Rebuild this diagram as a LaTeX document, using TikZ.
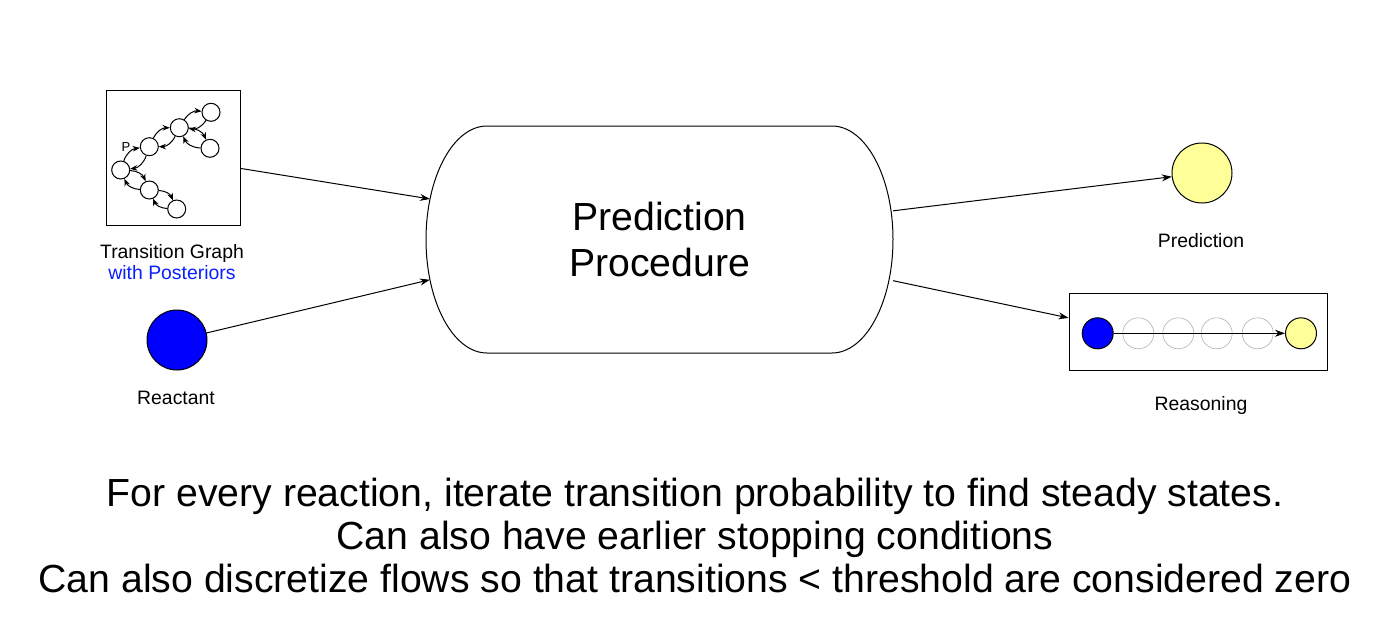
\documentclass[tikz,border=0pt]{standalone}
\usepackage{fontspec}
\setmainfont{Liberation Sans}
\usetikzlibrary{arrows.meta,positioning}
\definecolor{predyellow}{HTML}{FFFF99}
\definecolor{postblue}{HTML}{0A1EFF}

\begin{document}
\begin{tikzpicture}[x=0.5pt, y=-0.5pt, line width=0.5pt,
    >={Stealth[length=5pt,width=3.5pt]},
    lbl/.style={font=\fontsize{9.7}{10.5}\selectfont, align=center},
    state/.style={circle, draw, minimum size=9pt, inner sep=0pt},
    chainnode/.style={circle, draw=gray!60, line width=0.3pt, minimum size=15.5pt, inner sep=0pt},
    graphedge/.style={->, >={Stealth[length=3.6pt,width=2.8pt]}, bend left=32}]
    % Canvas
    \useasboundingbox[fill=white] (0,0) rectangle (1388,632);

    % Transition graph
    \node[draw, minimum width=67pt, minimum height=67.5pt, inner sep=0pt] (tg) at (173,157.5) {};
    \node[state] (g1) at (120.7,170) {};
    \node[state] (g2) at (149.3,146.7) {};
    \node[state] (g3) at (179.3,127.7) {};
    \node[state] (g4) at (211,112.3) {};
    \node[state] (g5) at (210,148.3) {};
    \node[state] (g6) at (149.3,190) {};
    \node[state] (g7) at (176.7,209) {};
    \foreach \a/\b in {g1/g2, g2/g3, g3/g4, g3/g5, g1/g6, g6/g7} {
        \draw[graphedge] (\a) to (\b);
        \draw[graphedge] (\b) to (\a);
    }
    \node[font=\fontsize{6.5}{7}\selectfont, inner sep=0pt] (plab) at (126,147.5) {P};
    \node[lbl] (tglabel) at (172,262) {Transition Graph\\\textcolor{postblue}{with Posteriors}};

    % Reactant
    \node[circle, draw, fill=blue, minimum size=30pt, inner sep=0pt] (react) at (177,340) {};
    \node[lbl] (reactlabel) at (176,398) {Reactant};

    % Procedure
    \node[minimum width=233.5pt, minimum height=113.5pt, inner sep=0pt, outer sep=0pt,
          font=\fontsize{19.6}{23}\selectfont, align=center] (proc) at (659.5,239.5)
          {Prediction\\Procedure};
    \draw ([xshift=30.5pt]proc.north west) -- ([xshift=-30.5pt]proc.north east)
        arc[start angle=90, end angle=-90, x radius=30.5pt, y radius=56.75pt]
        -- ([xshift=30.5pt]proc.south west)
        arc[start angle=270, end angle=90, x radius=30.5pt, y radius=56.75pt] -- cycle;

    % Prediction
    \node[circle, draw, fill=predyellow, minimum size=30pt, inner sep=0pt] (pred) at (1202,173) {};
    \node[lbl] (predlabel) at (1201,241) {Prediction};

    % Reasoning chain
    \node[draw, minimum width=129pt, minimum height=38.5pt, inner sep=0pt] (reas) at (1198,331.5) {};
    \node[circle, draw, fill=blue, minimum size=15.5pt, inner sep=0pt] (r1) at (1097.7,333.3) {};
    \node[chainnode] (r2) at (1138.3,333.3) {};
    \node[chainnode] (r3) at (1178.3,333.3) {};
    \node[chainnode] (r4) at (1216.7,333.3) {};
    \node[chainnode] (r5) at (1257.7,333.3) {};
    \node[circle, draw, fill=predyellow, minimum size=15.5pt, inner sep=0pt] (r6) at (1301,333.3) {};
    \draw[->] (r1) -- (r6);
    \node[lbl] (reaslabel) at (1201,405) {Reasoning};

    % Connectors
    \draw[->, shorten >=-2pt] (tg) -- (proc.170);
    \draw[->, shorten >=-2pt] (react) -- (proc.190);
    \draw[->] (proc.7) -- (pred);
    \draw[->] (proc.-10) -- (reas.174);

    % Notes
    \node[font=\fontsize{19.6}{21.5}\selectfont, align=center] (notes) at (695,535)
        {For every reaction, iterate transition probability to find steady states.\\
         Can also have earlier stopping conditions\\
         Can also discretize flows so that transitions < threshold are considered zero};
\end{tikzpicture}
\end{document}
